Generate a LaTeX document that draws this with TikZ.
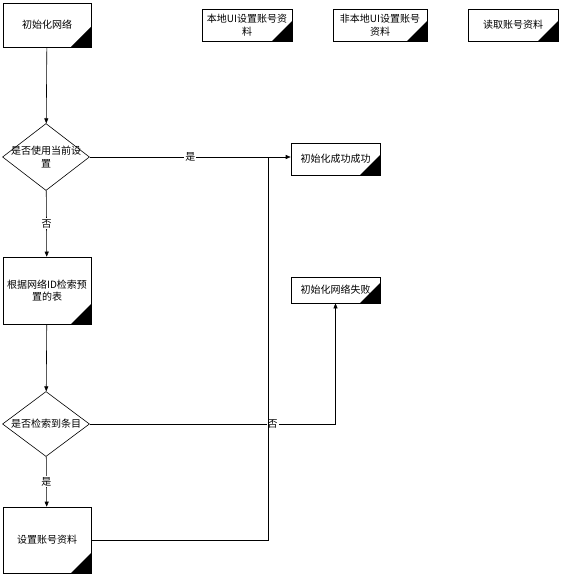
\documentclass[tikz,border=0pt]{standalone}
\usepackage{fontspec}
\usepackage{tikz}
\usetikzlibrary{arrows.meta,shapes.geometric}
\newfontfamily\cjk{Noto Sans CJK SC}

\tikzset{
  proc/.style={draw, rectangle, inner sep=1pt, align=center,
    path picture={\fill[black] (path picture bounding box.south east) -- ++(-20pt,0pt) -- ++(20pt,20pt) -- cycle;}},
  decide/.style={draw, diamond, inner sep=0pt, minimum width=87pt, minimum height=67pt},
  arr/.style={-{Triangle[length=5pt,width=4pt]}},
  lbl/.style={fill=white, inner sep=1pt}
}

\begin{document}
\begin{tikzpicture}[x=1pt, y=-1pt, line width=0.6pt, font=\cjk\fontsize{10}{12.5}\selectfont]
  \useasboundingbox (0,0) rectangle (561,577);

  % Legend boxes along the top
  \node[proc, minimum width=90pt, minimum height=32pt] (uiLocal) at (247,25) {本地UI设置账号资\\料};
  \node[proc, minimum width=94pt, minimum height=32pt] (uiRemote) at (380,25) {非本地UI设置账号\\资料};
  \node[proc, minimum width=90pt, minimum height=32pt] (readAcc) at (513,25) {读取账号资料};

  % Main column
  \node[proc, minimum width=88pt, minimum height=44pt] (init) at (47,25) {初始化网络};
  \node[decide, label={[align=center]center:是否使用当前设\\置}] (useCur) at (46,157) {};
  \node[proc, minimum width=88pt, minimum height=67pt] (lookup) at (47,290.5) {根据网络ID检索预\\置的表};
  \node[decide, minimum height=65pt, label=center:是否检索到条目] (found) at (46,424) {};
  \node[proc, minimum width=88pt, minimum height=66pt] (setAcc) at (47,540) {设置账号资料};

  % Result boxes
  \node[proc, minimum width=89pt, minimum height=32pt] (ok) at (335.5,159) {初始化成功成功};
  \node[proc, minimum width=89pt, minimum height=26pt] (fail) at (335.5,290) {初始化网络失败};
  \coordinate (jn) at (268,157);

  % Connectors
  \draw[arr] (init) -- (useCur);
  \draw[arr] (useCur.east) -- node[lbl]{是} (useCur.east -| ok.west);
  \draw[arr] (useCur) -- node[lbl]{否} (lookup);
  \draw[arr] (lookup) -- (found);
  \draw[arr] (found) -- node[lbl]{是} (setAcc);
  \draw[arr] (found.east) -- node[lbl, pos=0.744]{否} (found.east -| fail.south) -- (fail.south);
  \draw (setAcc.east) -- (setAcc.east -| jn) -- (jn);
\end{tikzpicture}
\end{document}
